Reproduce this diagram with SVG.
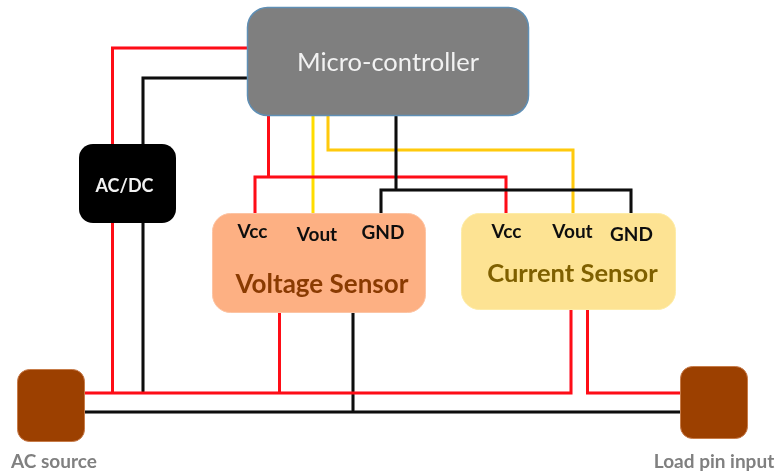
<svg xmlns="http://www.w3.org/2000/svg" width="776" height="471" viewBox="0 0 776 471">
<defs><filter id="soft" x="-5%" y="-5%" width="110%" height="110%"><feGaussianBlur stdDeviation="0.55"/></filter></defs>
<style>
text{font-family:Lato,"Open Sans","Liberation Sans",sans-serif;text-anchor:middle}
.w{fill:none;stroke-width:3;stroke-linejoin:miter}
.r{stroke:#fe0a12}.k{stroke:#0c0c0c}.y{stroke:#ffc90a}.y2{stroke:#ffdc00}
.pin{font-size:19px;font-weight:700;fill:#111}
.src{fill:#9c3f00;stroke:#c77b4a;stroke-width:1}
.cap{font-size:19px;font-weight:700;fill:#808080}
</style>
<rect width="776" height="471" fill="#fff"/>
<g filter="url(#soft)">
<g id="connectors">
<path class="w r" d="M247 48H112.500V144M112.500 223V393"/>
<path class="w k" d="M247 78H143V144M143 223V393"/>
<path class="w k" d="M85 412H680M353 313V412"/>
<path class="w r" d="M85 393H571V310M680 393H587.500V310M279.500 313V393"/>
<path class="w y2" d="M313 116V213"/>
<path class="w y" d="M328 116V150H573V215"/>
<path class="w r" d="M268.500 116V177M255 213V177H506V213"/>
<path class="w k" d="M396 116V190M381 213V190H631V215"/>
</g>
<g id="micro-controller">
<rect x="247.500" y="7.500" width="281" height="108" rx="20" fill="#7f7f7f" stroke="#5f8fb5" stroke-width="1.500"/>
<text x="388" y="71" font-size="25.500" fill="#f2f2f2">Micro-controller</text>
</g>
<g id="ac-dc">
<rect x="79" y="144" width="97" height="79" rx="14" fill="#000"/>
<text x="124.500" y="192" font-size="18" font-weight="700" fill="#f2f2f2">AC/DC</text>
</g>
<g id="voltage-sensor">
<rect x="212.500" y="213.500" width="213" height="99" rx="18" fill="#fdb083" stroke="#fcc4a4"/>
<text class="pin" x="252.500" y="238">Vcc</text>
<text class="pin" x="317" y="241">Vout</text>
<text class="pin" x="383" y="239">GND</text>
<text x="322" y="293" font-size="26" font-weight="700" fill="#8a3a06">Voltage Sensor</text>
</g>
<g id="current-sensor">
<rect x="461.500" y="213.500" width="214" height="96" rx="18" fill="#fde393" stroke="#fdeca8"/>
<text class="pin" x="506.500" y="238">Vcc</text>
<text class="pin" x="572.500" y="238">Vout</text>
<text class="pin" x="631.500" y="241">GND</text>
<text x="572.500" y="282" font-size="25.500" font-weight="700" fill="#7f6000">Current Sensor</text>
</g>
<g id="ac-source">
<rect class="src" x="17.500" y="369.500" width="67" height="72" rx="12"/>
<text class="cap" x="54" y="468">AC source</text>
</g>
<g id="load-pin-input">
<rect class="src" x="680.500" y="366.500" width="67" height="72" rx="12"/>
<text class="cap" x="714" y="468">Load pin input</text>
</g>
</g>
</svg>
